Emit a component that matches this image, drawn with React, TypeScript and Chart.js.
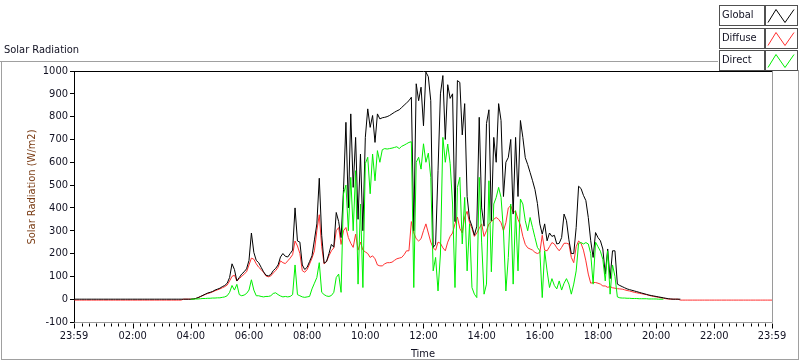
import React, { useEffect, useRef } from "react";
import { Chart, registerables } from "chart.js";

Chart.register(...registerables);

// ---- data: 5-minute samples from 00:00 to 23:55, plus 23:59 (W/m2) ----
const GLOBAL: (number | null)[] = [
  /*00*/ 0, 0, 0, 0, 0, 0, 0, 0, 0, 0, 0, 0,
  /*01*/ 0, 0, 0, 0, 0, 0, 0, 0, 0, 0, 0, 0,
  /*02*/ 0, 0, 0, 0, 0, 0, 0, 0, 0, 0, 0, 0,
  /*03*/ 0, 0, 0, 0, 0, 0, 0, 0, 0, 0, 0, 0,
  /*04*/ 0, 1, 3, 7, 12, 17, 22, 27, 30, 34, 40, 44,
  /*05*/ 48, 55, 60, 70, 95, 155, 130, 80, 95, 110, 120, 133,
  /*06*/ 170, 290, 205, 170, 160, 140, 120, 105, 102, 108, 125, 135,
  /*07*/ 150, 185, 200, 188, 185, 200, 215, 400, 255, 250, 150, 130,
  /*08*/ 140, 165, 190, 260, 330, 530, 280, 158, 165, 200, 240, 228,
  /*09*/ 380, 340, 270, 480, 775, 400, 812, 490, 709, 350, 636, 300,
  /*10*/ 709, 834, 753, 805, 687, 812, 790, 795, 797, 800, 805, 812,
  /*11*/ 819, 825, 830, 840, 850, 860, 870, 885, 300, 944, 870, 929,
  /*12*/ 760, 995, 975, 870, 227, 240, 563, 900, 980, 700, 940, 880,
  /*13*/ 900, 340, 958, 950, 720, 857, 450, 350, 320, 280, 320, 797,
  /*14*/ 400, 320, 770, 830, 344, 709, 600, 857, 783, 450, 600, 621,
  /*15*/ 700, 373, 709, 450, 783, 709, 620, 590, 555, 519, 480, 420,
  /*16*/ 330, 285, 330, 256, 290, 275, 280, 242, 245, 270, 373, 344,
  /*17*/ 260, 200, 200, 314, 495, 485, 455, 432, 358, 256, 183, 292,
  /*18*/ 270, 256, 220, 110, 220, 90, 212, 212, 66, 60, 55, 50,
  /*19*/ 45, 42, 39, 36, 33, 30, 27, 24, 21, 18, 16, 14,
  /*20*/ 12, 10, 8, 6, 4, 2, 1, 0, 0, 0, 0, null,
  /*21*/ null, null, null, null, null, null, null, null, null, null, null, null,
  /*22*/ null, null, null, null, null, null, null, null, null, null, null, null,
  /*23*/ null, null, null, null, null, null, null, null, null, null, null, null,
  /*23:59*/ null,
];

const DIFFUSE: (number | null)[] = [
  /*00*/ -4, -4, -4, -4, -4, -4, -4, -4, -4, -4, -4, -4,
  /*01*/ -4, -4, -4, -4, -4, -4, -4, -4, -4, -4, -4, -4,
  /*02*/ -4, -4, -4, -4, -4, -4, -4, -4, -4, -4, -4, -4,
  /*03*/ -4, -4, -4, -4, -4, -4, -4, -4, -4, 0, 0, 0,
  /*04*/ 0, 1, 3, 6, 11, 16, 21, 25, 28, 32, 37, 41,
  /*05*/ 45, 50, 55, 62, 80, 100, 105, 80, 90, 100, 110, 120,
  /*06*/ 150, 180, 175, 155, 140, 130, 118, 102, 98, 102, 115, 125,
  /*07*/ 140, 168, 160, 156, 168, 180, 195, 255, 233, 200, 125, 118,
  /*08*/ 130, 154, 180, 212, 300, 370, 230, 154, 165, 190, 212, 225,
  /*09*/ 300, 314, 240, 300, 314, 270, 245, 227, 285, 215, 250, 215,
  /*10*/ 207, 200, 183, 190, 177, 150, 146, 146, 155, 160, 160, 162,
  /*11*/ 170, 177, 180, 183, 195, 212, 212, 340, 290, 265, 255, 265,
  /*12*/ 300, 330, 290, 250, 225, 215, 250, 245, 225, 212, 250, 275,
  /*13*/ 290, 330, 360, 310, 290, 360, 385, 335, 310, 275, 290, 310,
  /*14*/ 330, 275, 300, 330, 340, 350, 358, 350, 335, 300, 335, 400,
  /*15*/ 410, 380, 385, 350, 325, 275, 240, 225, 220, 215, 205, 200,
  /*16*/ 205, 280, 215, 212, 230, 248, 242, 225, 212, 227, 245, 245,
  /*17*/ 242, 183, 160, 230, 255, 245, 215, 168, 110, 70, 73, 73,
  /*18*/ 70, 66, 58, 58, 52, 55, 50, 48, 46, 45, 44, 41,
  /*19*/ 38, 36, 33, 30, 28, 26, 24, 22, 20, 17, 14, 12,
  /*20*/ 10, 8, 6, 4, 2, 1, 0, 0, 0, 0, -4, -4,
  /*21*/ -4, -4, -4, -4, -4, -4, -4, -4, -4, -4, -4, -4,
  /*22*/ -4, -4, -4, -4, -4, -4, -4, -4, -4, -4, -4, -4,
  /*23*/ -4, -4, -4, -4, -4, -4, -4, -4, -4, -4, -4, -4,
  /*23:59*/ -4,
];

const DIRECT: (number | null)[] = [
  /*00*/ null, null, null, null, null, null, null, null, null, null, null, null,
  /*01*/ null, null, null, null, null, null, null, null, null, null, null, null,
  /*02*/ null, null, null, null, null, null, null, null, null, null, null, null,
  /*03*/ null, null, null, null, null, null, null, null, null, null, null, null,
  /*04*/ 0, 0, 1, 1, 2, 3, 3, 4, 4, 5, 5, 6,
  /*05*/ 6, 8, 10, 15, 30, 60, 40, 65, 20, 15, 18, 25,
  /*06*/ 40, 85, 40, 15, 15, 12, 10, 12, 12, 15, 25, 28,
  /*07*/ 20, 14, 10, 12, 10, 12, 20, 150, 20, 15, 10, 8,
  /*08*/ 10, 12, 45, 70, 95, 160, 30, 20, 14, 12, 16, 30,
  /*09*/ 95, 110, 30, 462, 500, 300, 534, 300, 563, 66, 417, 51,
  /*10*/ 594, 622, 462, 636, 519, 651, 600, 655, 660, 658, 660, 662,
  /*11*/ 665, 668, 660, 670, 675, 681, 687, 690, 51, 600, 622, 570,
  /*12*/ 681, 600, 640, 534, 124, 183, 36, 198, 709, 600, 680, 594,
  /*13*/ 417, 51, 490, 534, 242, 446, 124, 330, 51, 22, 7, 534,
  /*14*/ 250, 22, 66, 519, 120, 417, 446, 490, 446, 300, 36, 183,
  /*15*/ 417, 66, 388, 124, 439, 417, 344, 300, 358, 314, 270, 227,
  /*16*/ 212, 7, 212, 124, 51, 90, 60, 45, 80, 40, 70, 90,
  /*17*/ 66, 22, 66, 124, 245, 248, 242, 248, 242, 200, 66, 250,
  /*18*/ 230, 210, 175, 80, 212, 22, 150, 100, 10, 6, 5, 5,
  /*19*/ 4, 4, 3, 3, 3, 2, 2, 2, 2, 1, 1, 1,
  /*20*/ 1, 0, 0, 0, null, null, null, null, null, null, null, null,
  /*21*/ null, null, null, null, null, null, null, null, null, null, null, null,
  /*22*/ null, null, null, null, null, null, null, null, null, null, null, null,
  /*23*/ null, null, null, null, null, null, null, null, null, null, null, null,
  /*23:59*/ null,
];

// x values in minutes since 00:00 (axis runs from 23:59 of the previous day)
const TIMES: number[] = GLOBAL.map((_, i) => (i < 288 ? i * 5 : 1439));

const MAJOR_TICKS = [-1, 120, 240, 360, 480, 600, 720, 840, 960, 1080, 1200, 1320, 1439];
const TICK_LABELS = [
  "23:59", "02:00", "04:00", "06:00", "08:00", "10:00", "12:00",
  "14:00", "16:00", "18:00", "20:00", "22:00", "23:59",
];
const MINOR_STEP = 15;
const Y_MIN = -100;
const Y_MAX = 1000;
const Y_STEP = 100;

const SERIES = [
  { name: "Global", color: "#000000", data: GLOBAL },
  { name: "Diffuse", color: "#ff3030", data: DIFFUSE },
  { name: "Direct", color: "#00f000", data: DIRECT },
];

const FONT = '"DejaVu Sans Condensed", "DejaVu Sans", sans-serif';
const TEXT = "#111122";

const toPoints = (arr: (number | null)[]) => arr.map((y, i) => ({ x: TIMES[i], y }));

const decorPlugin = {
  id: "decor",
  beforeDraw(chart: any) {
    const { ctx, width, height } = chart;
    ctx.save();
    ctx.fillStyle = "#ffffff";
    ctx.fillRect(0, 0, width, height);
    ctx.restore();
  },
  afterDraw(chart: any) {
    const { ctx, chartArea: a, scales } = chart;
    const x = scales.x;
    const line = (x1: number, y1: number, x2: number, y2: number, c: string) => {
      ctx.strokeStyle = c;
      ctx.beginPath();
      ctx.moveTo(x1, y1);
      ctx.lineTo(x2, y2);
      ctx.stroke();
    };
    ctx.save();
    ctx.lineWidth = 1;
    const L = Math.round(a.left) + 0.5;
    const R = Math.round(a.right) + 0.5;
    const T = Math.round(a.top) + 0.5;
    const B = Math.round(a.bottom) + 0.5;
    // plot border
    line(L, T, R, T, "#000000");
    line(R, T, R, B, "#9a9a9a");
    line(L, B, R, B, "#9a9a9a");

    // x ticks (minor every 15 min, major at labels)
    const ticks: { v: number; major: boolean }[] = [];
    for (let m = 0; m < 1439; m += MINOR_STEP) ticks.push({ v: m, major: false });
    MAJOR_TICKS.forEach((v) => ticks.push({ v, major: true }));
    ticks.forEach((t) => {
      if (!t.major && MAJOR_TICKS.some((mv) => Math.abs(mv - t.v) < 3)) return;
      const px = Math.round(x.getPixelForValue(t.v)) + 0.5;
      line(px, B + 1, px, B + (t.major ? 6 : 4), "#000000");
    });

    // axis titles
    ctx.fillStyle = TEXT;
    ctx.font = `11px ${FONT}`;
    ctx.textAlign = "center";
    ctx.textBaseline = "middle";
    ctx.fillText("Time", (a.left + a.right) / 2, 354);
    ctx.save();
    ctx.translate(32, 187);
    ctx.rotate(-Math.PI / 2);
    ctx.fillStyle = "#7a3c14";
    ctx.fillText("Solar Radiation (W/m2)", 0, 0);
    ctx.restore();

    // outer frame
    const G = "#a0a0a0";
    line(0, 61.5, 718, 61.5, G);
    line(1.5, 61, 1.5, 360, G);
    line(1, 359.5, 799, 359.5, G);
    line(798.5, 70, 798.5, 360, G);

    // chart title
    ctx.fillStyle = TEXT;
    ctx.textAlign = "left";
    ctx.fillText("Solar Radiation", 4, 50);

    // legend
    SERIES.forEach((s, i) => {
      const y0 = 5 + i * 22.5;
      const yy = Math.round(y0) + 0.5;
      ctx.fillStyle = "#ffffff";
      ctx.fillRect(720, yy, 44, 20);
      ctx.fillRect(766, yy, 31, 20);
      ctx.strokeStyle = "#505050";
      ctx.strokeRect(719.5, yy, 45, 20);
      ctx.strokeRect(765.5, yy, 32, 20);
      ctx.fillStyle = TEXT;
      ctx.textAlign = "left";
      ctx.fillText(s.name, 722, yy + 10);
      ctx.strokeStyle = s.color;
      ctx.beginPath();
      ctx.moveTo(768, yy + 17);
      ctx.lineTo(776, yy + 4);
      ctx.lineTo(785, yy + 17);
      ctx.lineTo(794, yy + 4);
      ctx.stroke();
    });
    ctx.restore();
  },
};

export default function App() {
  const ref = useRef<HTMLCanvasElement | null>(null);
  useEffect(() => {
    if (!ref.current) return;
    const byName = (n: string) => SERIES.find((s) => s.name === n)!;
    const mk = (n: string) => ({
      label: n,
      data: toPoints(byName(n).data),
      borderColor: byName(n).color,
      backgroundColor: byName(n).color,
      borderWidth: 1,
      pointRadius: 0,
      tension: 0,
      fill: false,
      spanGaps: false,
    });
    const chart = new Chart(ref.current, {
      type: "line",
      data: { datasets: [mk("Direct"), mk("Global"), mk("Diffuse")] as any },
      options: {
        responsive: false,
        animation: false,
        events: [],
        layout: { padding: { left: 0, top: 71, right: 28, bottom: 0 } },
        plugins: { legend: { display: false }, tooltip: { enabled: false }, title: { display: false } },
        scales: {
          x: {
            type: "linear",
            min: -1,
            max: 1439,
            afterBuildTicks: (s: any) => {
              s.ticks = MAJOR_TICKS.map((v) => ({ value: v }));
            },
            afterFit: (s: any) => {
              s.height = 39;
            },
            ticks: {
              autoSkip: false,
              maxRotation: 0,
              padding: 8,
              color: TEXT,
              font: { family: FONT, size: 11 },
              callback: (_v: any, i: number) => TICK_LABELS[i],
            },
            grid: { display: false, drawTicks: false },
            border: { display: false },
          },
          y: {
            min: Y_MIN,
            max: Y_MAX,
            afterFit: (s: any) => {
              s.width = 74;
            },
            ticks: {
              stepSize: Y_STEP,
              padding: 2,
              color: TEXT,
              font: { family: FONT, size: 11 },
              callback: (v: any) => String(v),
            },
            grid: { drawOnChartArea: false, tickLength: 4, color: "#000000" },
            border: { display: true, color: "#000000" },
          },
        },
      },
      plugins: [decorPlugin],
    } as any);
    return () => chart.destroy();
  }, []);
  return (
    <div style={{ position: "absolute", left: 0, top: 0, width: 800, height: 361 }}>
      <canvas ref={ref} width={800} height={361} style={{ display: "block", width: 800, height: 361 }} />
    </div>
  );
}
